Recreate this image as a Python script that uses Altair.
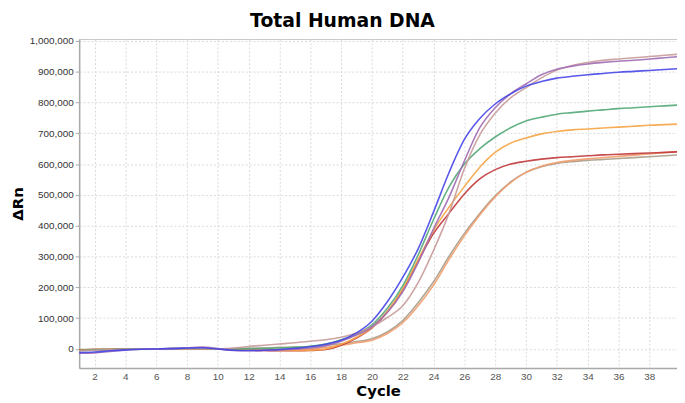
import altair as alt
import pandas as pd

cycles = list(range(1, 41))

blue = [-12, -10, -6, -3, -1, 0, 1, 3, 4, 0,
        -4, -5, -4, -2, 2, 7, 15, 28, 52, 90,
        153, 232, 325, 445, 572, 680, 748, 795, 828, 853,
        868, 879, 885, 890, 894, 898, 901, 904, 907, 910]
green = [-5, -3, -2, -1, 0, 0, 1, 1, 1, 0,
         0, 1, 2, 3, 5, 9, 16, 30, 48, 78,
         132, 205, 305, 420, 525, 600, 650, 688, 718, 740,
         752, 762, 767, 772, 776, 780, 783, 786, 789, 792]
orange = [-4, -3, -2, -1, -1, 0, 0, 1, 1, 0,
          -2, -3, -4, -5, -5, -4, 0, 15, 38, 70,
          122, 195, 290, 385, 460, 527, 590, 638, 668, 685,
          698, 706, 711, 714, 717, 720, 723, 726, 728, 730]
red = [-3, -2, -2, -1, -1, 0, 0, 0, 1, 0,
       -3, -4, -5, -6, -6, -5, -2, 12, 35, 68,
       120, 192, 285, 375, 440, 503, 552, 582, 600, 609,
       616, 621, 624, 627, 630, 632, 634, 636, 638, 640]
purple = [-14, -13, -8, -4, -1, 0, 2, 4, 6, 1,
          -5, -6, -5, -4, -1, 3, 10, 25, 45, 72,
          118, 185, 280, 390, 492, 610, 718, 783, 828, 860,
          890, 908, 918, 925, 930, 934, 937, 941, 945, 949]
pink = [-6, -4, -3, -1, 0, 0, 0, 0, 1, 0,
        3, 8, 12, 16, 20, 25, 30, 38, 52, 72,
        102, 140, 215, 320, 440, 585, 695, 765, 815, 848,
        880, 905, 920, 930, 937, 941, 945, 949, 953, 957]
tan = [-2, -1, -1, 0, 0, 0, 0, 0, 0, 0,
       1, 2, 3, 5, 6, 8, 12, 17, 24, 33,
       55, 92, 150, 218, 300, 375, 440, 497, 542, 573,
       591, 602, 608, 612, 615, 618, 621, 624, 627, 630]
salmon = [-3, -2, -1, -1, 0, 0, 0, 0, 0, 0,
          -1, -2, -2, -2, -1, 0, 5, 12, 20, 28,
          50, 85, 140, 207, 290, 367, 435, 493, 540, 573,
          593, 605, 612, 617, 621, 625, 629, 633, 637, 642]

series_names = ["tan", "salmon", "red", "orange", "green", "pink", "purple", "blue"]
series_values = [tan, salmon, red, orange, green, pink, purple, blue]
series_colors = ["#a89c88", "#f29c6c", "#c0393b", "#f5a442", "#52a877", "#c89a9a", "#a06cb4", "#4646e8"]

y_ticks = [0, 100000, 200000, 300000, 400000, 500000, 600000, 700000, 800000, 900000, 1000000]
x_ticks = list(range(2, 40, 2))

rows = []
for name, vals in zip(series_names, series_values):
    for c, v in zip(cycles, vals):
        rows.append({"series": name, "cycle": c, "drn": v * 1000})
df = pd.DataFrame(rows)

chart = alt.Chart(df).mark_line(
    strokeWidth=1.6, interpolate="monotone", clip=True, opacity=0.9
).encode(
    x=alt.X("cycle:Q",
            scale=alt.Scale(domain=[1, 39.8], nice=False, zero=False),
            axis=alt.Axis(values=x_ticks, title="Cycle", ticks=False, labelPadding=4,
                          titlePadding=2, labelColor="#555")),
    y=alt.Y("drn:Q",
            scale=alt.Scale(domain=[-62000, 1006000], nice=False, zero=False),
            axis=alt.Axis(values=y_ticks, format=",.0f", title="ΔRn", ticks=True, tickSize=4,
                          labelPadding=2, titlePadding=4, labelColor="#333")),
    color=alt.Color("series:N", scale=alt.Scale(domain=series_names, range=series_colors), legend=None),
    detail="series:N",
).properties(
    width=605,
    height=333,
    autosize=alt.AutoSizeParams(type="none"),
    padding={"left": 72, "top": 29, "right": 0, "bottom": 33},
    title=alt.TitleParams("Total Human DNA", font="DejaVu Sans", fontSize=19, fontWeight="bold",
                          anchor="middle", dx=-36, offset=5, color="#000"),
).configure_axis(
    domainColor="#aaaaaa",
    domainWidth=1.5,
    tickColor="#aaaaaa",
    gridColor="#d9d9d9",
    gridDash=[2, 2],
    labelFont="Liberation Sans",
    labelFontSize=10,
    titleFont="DejaVu Sans",
    titleFontSize=15,
    titleFontWeight="bold",
    titleColor="#000",
).configure_view(
    stroke="#c8c8c8",
)

chart.save("out.html", embed_options={"renderer": "svg", "actions": False})
